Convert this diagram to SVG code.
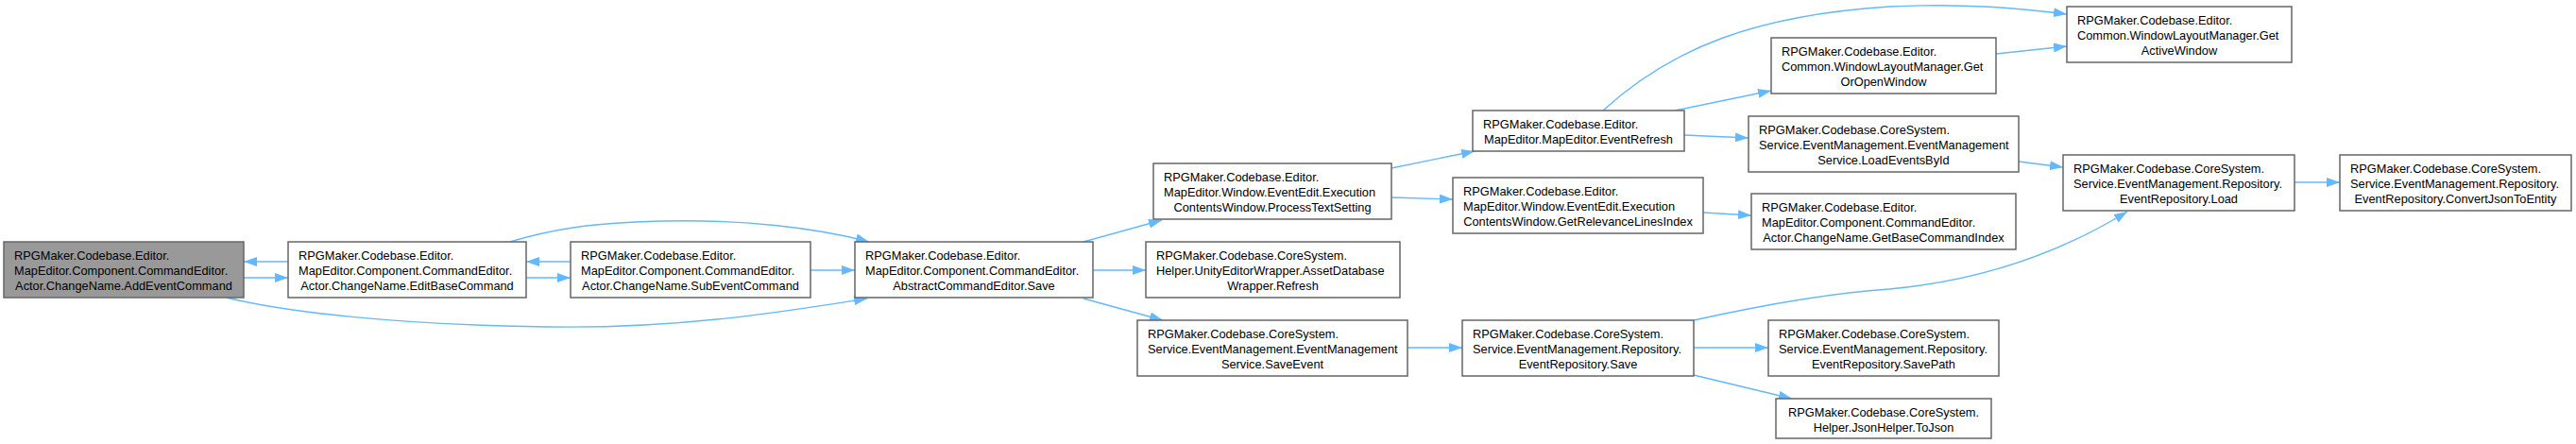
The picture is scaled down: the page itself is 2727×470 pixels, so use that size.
<svg xmlns="http://www.w3.org/2000/svg" width="2727" height="470" viewBox="0 0 2727 470">
<defs>
<style>
.n rect{fill:#ffffff;stroke:#666666;stroke-width:1.5}
.n.hl rect{fill:#999999}
.n text{font-family:"Liberation Sans",Arial,sans-serif;font-size:12.8px;fill:#000000}
.n text.c{text-anchor:middle}
.e path{fill:none;stroke:#63b8ff;stroke-width:1.4;marker-end:url(#ah)}
</style>
<marker id="ah" markerUnits="userSpaceOnUse" markerWidth="14" markerHeight="10" refX="14" refY="5" orient="auto">
<path d="M0,0 L14,5 L0,10 z" fill="#63b8ff"/>
</marker>
</defs>
<rect width="2727" height="470" fill="#ffffff"/>
<g id="edges" class="e">
<path d="M305,277 L258,277"/>
<path d="M258,294 L305,294"/>
<path d="M540,256 C580,244 620,236 700,234 C780,232 860,240 920,256"/>
<path d="M240,315 C300,330 420,344 580,346 C720,348 830,330 918,316"/>
<path d="M604,277 L557,277"/>
<path d="M557,294 L604,294"/>
<path d="M858,286 L905,286"/>
<path d="M1147,256 L1230,233"/>
<path d="M1157,286 L1213,286"/>
<path d="M1147,316 L1231,339"/>
<path d="M1473,178 L1561,160"/>
<path d="M1473,209 L1538,211"/>
<path d="M1697,117 C1770,50 1860,16 2000,7 C2080,3 2140,9 2188,15"/>
<path d="M1773,117 L1875,96"/>
<path d="M1783,143 L1851,146"/>
<path d="M2113,57 L2188,49"/>
<path d="M2137,171 L2184,177"/>
<path d="M1803,225 L1854,228"/>
<path d="M1793,339 C1870,322 1940,310 2000,306 C2110,296 2190,262 2252,224"/>
<path d="M1490,368 L1548,368"/>
<path d="M1793,368 L1872,368"/>
<path d="M1793,397 L1897,422"/>
<path d="M2429,193 L2477,193"/>
</g>
<g id="n_addevent" class="n hl">
<rect x="4" y="256" width="254" height="59"/>
<text x="15" y="275">RPGMaker.Codebase.Editor.</text>
<text x="15" y="291">MapEditor.Component.CommandEditor.</text>
<text class="c" x="131" y="307">Actor.ChangeName.AddEventCommand</text>
</g>
<g id="n_editbase" class="n">
<rect x="305" y="256" width="252" height="59"/>
<text x="316" y="275">RPGMaker.Codebase.Editor.</text>
<text x="316" y="291">MapEditor.Component.CommandEditor.</text>
<text class="c" x="431" y="307">Actor.ChangeName.EditBaseCommand</text>
</g>
<g id="n_subevent" class="n">
<rect x="604" y="256" width="254" height="59"/>
<text x="615" y="275">RPGMaker.Codebase.Editor.</text>
<text x="615" y="291">MapEditor.Component.CommandEditor.</text>
<text class="c" x="731" y="307">Actor.ChangeName.SubEventCommand</text>
</g>
<g id="n_save" class="n">
<rect x="905" y="256" width="252" height="59"/>
<text x="916" y="275">RPGMaker.Codebase.Editor.</text>
<text x="916" y="291">MapEditor.Component.CommandEditor.</text>
<text class="c" x="1031" y="307">AbstractCommandEditor.Save</text>
</g>
<g id="n_processtext" class="n">
<rect x="1221" y="173" width="252" height="59"/>
<text x="1232" y="192">RPGMaker.Codebase.Editor.</text>
<text x="1232" y="208">MapEditor.Window.EventEdit.Execution</text>
<text class="c" x="1347" y="224">ContentsWindow.ProcessTextSetting</text>
</g>
<g id="n_assetdb" class="n">
<rect x="1213" y="256" width="269" height="59"/>
<text x="1224" y="275">RPGMaker.Codebase.CoreSystem.</text>
<text x="1224" y="291">Helper.UnityEditorWrapper.AssetDatabase</text>
<text class="c" x="1347.5" y="307">Wrapper.Refresh</text>
</g>
<g id="n_saveevent" class="n">
<rect x="1204" y="339" width="286" height="59"/>
<text x="1215" y="358">RPGMaker.Codebase.CoreSystem.</text>
<text x="1215" y="374">Service.EventManagement.EventManagement</text>
<text class="c" x="1347" y="390">Service.SaveEvent</text>
</g>
<g id="n_eventrefresh" class="n">
<rect x="1559" y="117" width="224" height="43"/>
<text x="1570" y="136">RPGMaker.Codebase.Editor.</text>
<text class="c" x="1671" y="152">MapEditor.MapEditor.EventRefresh</text>
</g>
<g id="n_getrelevance" class="n">
<rect x="1538" y="188" width="265" height="59"/>
<text x="1549" y="207">RPGMaker.Codebase.Editor.</text>
<text x="1549" y="223">MapEditor.Window.EventEdit.Execution</text>
<text class="c" x="1670.5" y="239">ContentsWindow.GetRelevanceLinesIndex</text>
</g>
<g id="n_reposave" class="n">
<rect x="1548" y="339" width="245" height="59"/>
<text x="1559" y="358">RPGMaker.Codebase.CoreSystem.</text>
<text x="1559" y="374">Service.EventManagement.Repository.</text>
<text class="c" x="1670.5" y="390">EventRepository.Save</text>
</g>
<g id="n_getoropen" class="n">
<rect x="1875" y="40" width="238" height="59"/>
<text x="1886" y="59">RPGMaker.Codebase.Editor.</text>
<text x="1886" y="75">Common.WindowLayoutManager.Get</text>
<text class="c" x="1994" y="91">OrOpenWindow</text>
</g>
<g id="n_loadevents" class="n">
<rect x="1851" y="123" width="286" height="59"/>
<text x="1862" y="142">RPGMaker.Codebase.CoreSystem.</text>
<text x="1862" y="158">Service.EventManagement.EventManagement</text>
<text class="c" x="1994" y="174">Service.LoadEventsById</text>
</g>
<g id="n_getbasecmd" class="n">
<rect x="1854" y="205" width="280" height="59"/>
<text x="1865" y="224">RPGMaker.Codebase.Editor.</text>
<text x="1865" y="240">MapEditor.Component.CommandEditor.</text>
<text class="c" x="1994" y="256">Actor.ChangeName.GetBaseCommandIndex</text>
</g>
<g id="n_savepath" class="n">
<rect x="1872" y="339" width="244" height="59"/>
<text x="1883" y="358">RPGMaker.Codebase.CoreSystem.</text>
<text x="1883" y="374">Service.EventManagement.Repository.</text>
<text class="c" x="1994" y="390">EventRepository.SavePath</text>
</g>
<g id="n_tojson" class="n">
<rect x="1880" y="422" width="228" height="42"/>
<text class="c" x="1994" y="441">RPGMaker.Codebase.CoreSystem.</text>
<text class="c" x="1994" y="457">Helper.JsonHelper.ToJson</text>
</g>
<g id="n_getactive" class="n">
<rect x="2188" y="7" width="238" height="59"/>
<text x="2199" y="26">RPGMaker.Codebase.Editor.</text>
<text x="2199" y="42">Common.WindowLayoutManager.Get</text>
<text class="c" x="2307" y="58">ActiveWindow</text>
</g>
<g id="n_load" class="n">
<rect x="2184" y="164" width="245" height="59"/>
<text x="2195" y="183">RPGMaker.Codebase.CoreSystem.</text>
<text x="2195" y="199">Service.EventManagement.Repository.</text>
<text class="c" x="2306.5" y="215">EventRepository.Load</text>
</g>
<g id="n_convert" class="n">
<rect x="2477" y="164" width="245" height="59"/>
<text x="2488" y="183">RPGMaker.Codebase.CoreSystem.</text>
<text x="2488" y="199">Service.EventManagement.Repository.</text>
<text class="c" x="2599.5" y="215">EventRepository.ConvertJsonToEntity</text>
</g>
</svg>
